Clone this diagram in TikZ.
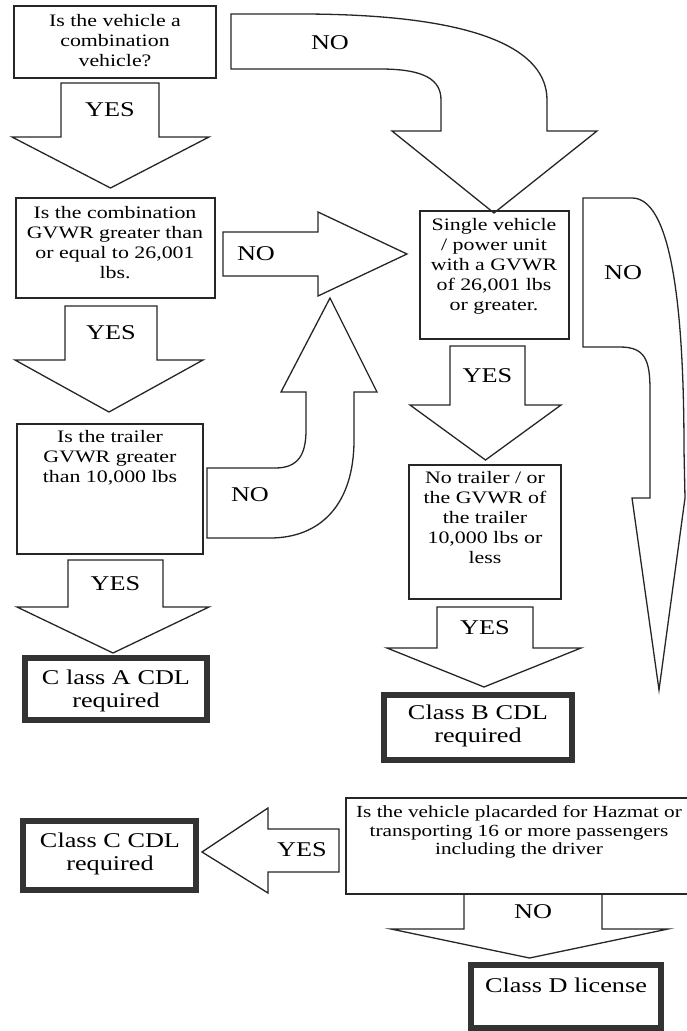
\documentclass[tikz,border=0pt]{standalone}
\usepackage{fontspec}
\setmainfont[FakeStretch=1.25]{Liberation Serif}
\tikzset{ ask/.style = { rectangle % question box
        , draw = black!85
        , line width = 1.3pt
        , inner sep = 0pt
        }
        , cdl/.style = { rectangle % licence box
        , draw = black!80
        , line width = 6pt
        , inner sep = 0pt
        }
        , txt/.style = { align = center % box text
        , inner sep = 0pt
        , font = \fontsize{17.5}{20}\selectfont
        }
        , big/.style = { align = center % licence text
        , inner sep = 0pt
        , font = \fontsize{21}{22.5}\selectfont
        }
        , arw/.style = { draw = black!85 % block arrow
        , line width = 1.3pt
        , line join = miter
        , fill = white
        }
        , ans/.style = { inner sep = 0pt % yes / no
        , font = \fontsize{21}{21}\selectfont
        }
        }
\def\blkdown[#1](#2,#3,#4,#5,#6,#7,#8)#9{% down arrow
\draw[arw] (#2,#4) -- (#3,#4) -- (#3,#5) -- (#7,#5) -- ({(#6+#7)/2},#8) -- (#6,#5) -- (#2,#5) -- cycle;
\node[ans] (#1) at ({(#2+#3)/2},{(#4+#5)/2}) {#9};
}

\begin{document}
\begin{tikzpicture}[x=1pt, y=-1pt]
    \useasboundingbox (0,0) rectangle (686,1031);

    % yes arrows
    \blkdown[yes1](61,159,83,137,12,209,188){YES}
    \blkdown[yes2](65,157,306,360,15,203,412){YES}
    \blkdown[yes3](68,163,560,607,17,209,653){YES}
    \blkdown[yes4](450,525,346,405,410,561,460){YES}
    \blkdown[yes5](437,533,607,648,387,581,687){YES}
    \blkdown[no5](464,602,894,929,391,668,958){NO}

    % no arrows
    \draw[arw] (231,14) -- (300,14) .. controls (480,14) and (547,50) .. (547,100) -- (547,131)
        -- (597,131) -- (494,213) -- (392,131) -- (441,131) -- (441,100)
        .. controls (441,80) and (425,69) .. (380,69) -- (231,69) -- cycle;
    \node[ans] (no1) at (330,43) {NO};
    \draw[arw] (223,232) -- (318,232) -- (318,212) -- (407,254) -- (318,296) -- (318,276) -- (223,276) -- cycle;
    \node[ans] (no2) at (256,254) {NO};
    \draw[arw] (207,468) -- (275,468) .. controls (298,468) and (306,455) .. (306,430) -- (306,392)
        -- (281,392) -- (330,298) -- (377,392) -- (354,392) -- (354,440)
        .. controls (354,505) and (320,538) .. (270,538) -- (207,538) -- cycle;
    \node[ans] (no3) at (250,495) {NO};
    \draw[arw] (583,198) -- (632,198) .. controls (670,198) and (684,300) .. (684,450) -- (685,498)
        -- (659,690) -- (632,498) -- (650,498) -- (650,390)
        .. controls (650,360) and (645,347) .. (620,347) -- (583,347) -- cycle;
    \node[ans] (no4) at (623,273) {NO};
    \draw[arw] (339,829) -- (268,829) -- (268,808) -- (202,852) -- (268,893) -- (268,872) -- (339,872) -- cycle;
    \node[ans] (yes6) at (302,850) {YES};

    % questions
    \node[ask, minimum width=202, minimum height=72] (veh) at (115,42) {};
    \node[txt] (vehT) at (115,41) {Is the vehicle a\\combination\\vehicle?};
    \node[ask, minimum width=199, minimum height=100] (comb) at (115.5,248) {};
    \node[txt] (combT) at (115,243) {Is the combination\\GVWR greater than\\or equal to 26,001\\lbs.};
    \node[ask, minimum width=149, minimum height=128] (single) at (494.5,275) {};
    \node[txt] (singleT) at (494,266) {Single vehicle\\/ power unit\\with a GVWR\\of 26,001 lbs\\or greater.};
    \node[ask, minimum width=186, minimum height=130] (trail) at (110,489) {};
    \node[txt] (trailT) at (110,458) {Is the trailer\\GVWR greater\\than 10,000 lbs};
    \node[ask, minimum width=152, minimum height=134] (notr) at (485,532) {};
    \node[txt] (notrT) at (485,518) {No trailer / or\\the GVWR of\\the trailer\\10,000 lbs or\\less};
    \node[ask, minimum width=350, minimum height=96] (haz) at (521,846) {};
    \node[txt, font=\fontsize{17}{18.5}\selectfont] (hazT) at (519,832) {Is the vehicle placarded for Hazmat or\\transporting 16 or more passengers\\including the driver};

    % licences
    \node[cdl, minimum width=182, minimum height=62] (clA) at (116,689) {};
    \node[big] (clAT) at (116,691) {C lass A CDL\\required};
    \node[cdl, minimum width=188, minimum height=65] (clB) at (478,727.5) {};
    \node[big] (clBT) at (478,726) {Class B CDL\\required};
    \node[cdl, minimum width=173, minimum height=69] (clC) at (109.5,855.5) {};
    \node[big] (clCT) at (110,854) {Class C CDL\\required};
    \node[cdl, minimum width=190, minimum height=63] (clD) at (566,996.5) {};
    \node[big] (clDT) at (566,985) {Class D license};
\end{tikzpicture}
\end{document}
